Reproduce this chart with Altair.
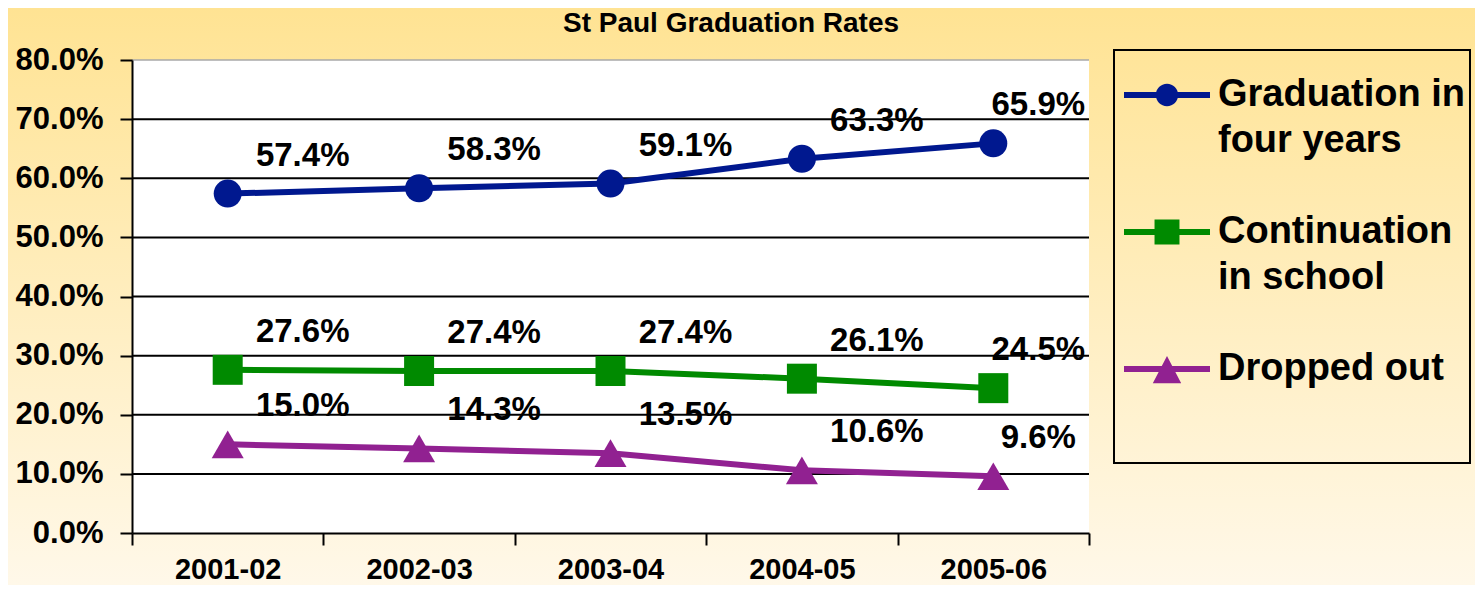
import altair as alt
import pandas as pd

# ---------------- data ----------------
years = ["2001-02", "2002-03", "2003-04", "2004-05", "2005-06"]
series = ["Graduation in\nfour years", "Continuation\nin school", "Dropped out"]
graduation = [57.4, 58.3, 59.1, 63.3, 65.9]
continuation = [27.6, 27.4, 27.4, 26.1, 24.5]
dropped = [15.0, 14.3, 13.5, 10.6, 9.6]
y_ticks = [0, 10, 20, 30, 40, 50, 60, 70, 80]
grid_lines = [10, 20, 30, 40, 50, 60, 70]
title_text = "St Paul Graduation Rates"

colors = ["#00188F", "#008A00", "#912191"]
point_shapes = ["circle", "square", "triangle-up"]
point_sizes = [784, 900, 1024]
# legend symbols: line segment + marker (custom paths in [-1,1] box)
legend_paths = [
    "M-1,-0.07L1,-0.07L1,0.07L-1,0.07Z M-0.26,0A0.26,0.26 0 1,1 0.26,0A0.26,0.26 0 1,1 -0.26,0Z",
    "M-1,-0.07L1,-0.07L1,0.07L-1,0.07Z M-0.29,-0.29L0.29,-0.29L0.29,0.29L-0.29,0.29Z",
    "M-1,-0.07L1,-0.07L1,0.07L-1,0.07Z M0,-0.3L0.33,0.33L-0.33,0.33Z",
]

rows = []
for s, vals in zip(series, [graduation, continuation, dropped]):
    for yr, v in zip(years, vals):
        rows.append({"year": yr, "series": s, "value": v / 100})
df = pd.DataFrame(rows)
grid_df = pd.DataFrame({"value": [g / 100 for g in grid_lines]})

# ---------------- layout ----------------
W, H = 957, 473
PL, PT, PR, PB = 124, 52, 386, 52
FONT = "Liberation Sans"

xscale = alt.Scale(domain=years, paddingInner=0, paddingOuter=0)
yscale = alt.Scale(domain=[0, 0.8], nice=False)
xaxis = alt.Axis(title=None, tickBand="extent", domainColor="black", domainWidth=2,
                 tickColor="black", tickWidth=2, tickSize=12, labelFont=FONT,
                 labelFontSize=29, labelFontWeight="bold", labelColor="black",
                 labelPadding=10, labelAngle=0, grid=False, zindex=1)
yaxis = alt.Axis(title=None, values=[t / 100 for t in y_ticks], format=".1%",
                 domainColor="black", domainWidth=2, tickColor="black", tickWidth=2,
                 tickSize=12, labelFont=FONT, labelFontSize=31, labelFontWeight="bold",
                 labelColor="black", labelPadding=17, grid=False, zindex=1)
X = alt.X("year:N", scale=xscale, axis=xaxis, sort=years)
Y = alt.Y("value:Q", scale=yscale, axis=yaxis)
cscale = alt.Scale(domain=series, range=colors)

one = alt.Data(values=[{}])

bg = alt.Chart(one).mark_rect(
    color=alt.LinearGradient(gradient="linear", x1=0, y1=0, x2=0, y2=1,
                             stops=[alt.GradientStop(color="#FFE393", offset=0),
                                    alt.GradientStop(color="#FFF8E9", offset=1)])
).encode(x=alt.value(-PL), x2=alt.value(W + PR), y=alt.value(-PT), y2=alt.value(H + PB))

plot_bg = alt.Chart(one).mark_rect(color="white").encode(
    x=alt.value(0), x2=alt.value(W), y=alt.value(0), y2=alt.value(H))

top_border = alt.Chart(one).mark_rule(color="#A8A8A8", strokeWidth=1.5).encode(
    x=alt.value(0), x2=alt.value(W), y=alt.value(0))

grid = alt.Chart(grid_df).mark_rule(color="black", strokeWidth=2).encode(
    y=Y, x=alt.value(0), x2=alt.value(W))

legend_box = alt.Chart(one).mark_rect(fill="transparent", stroke="black", strokeWidth=2).encode(
    x=alt.value(982), x2=alt.value(1338), y=alt.value(-10), y2=alt.value(403))

legend = alt.Legend(title=None, orient="none", legendX=982, legendY=-18, padding=10,
                    labelFont=FONT, labelFontSize=38, labelFontWeight="bold",
                    labelColor="black", labelLimit=500, labelOffset=8,
                    labelExpr="split(datum.label, '\\n')",
                    symbolSize=7396, symbolOpacity=1, symbolStrokeWidth=0,
                    rowPadding=29, zindex=1)

dummy = alt.Chart(df).mark_point(filled=True, opacity=0, size=10).encode(
    x=X, y=Y,
    color=alt.Color("series:N", scale=cscale, legend=legend, sort=series),
    shape=alt.Shape("series:N", scale=alt.Scale(domain=series, range=legend_paths),
                    legend=legend, sort=series),
)

lines = alt.Chart(df).mark_line(strokeWidth=6).encode(
    x=X, y=Y, color=alt.Color("series:N", scale=cscale, legend=None),
    detail="series:N")

point_layers = []
for s, shp, sz in zip(series, point_shapes, point_sizes):
    point_layers.append(
        alt.Chart(df).transform_filter(alt.datum.series == s)
        .mark_point(shape=shp, filled=True, size=sz, opacity=1)
        .encode(x=X, y=Y, color=alt.Color("series:N", scale=cscale, legend=None))
    )

label_style = dict(font=FONT, fontSize=33, fontWeight="bold", color="black", dy=-38)
labels = alt.Chart(df).transform_filter(alt.datum.year != years[-1]).mark_text(
    dx=75, **label_style).encode(x=X, y=Y, text=alt.Text("value:Q", format=".1%"))
labels_last = alt.Chart(df).transform_filter(alt.datum.year == years[-1]).mark_text(
    dx=45, **label_style).encode(x=X, y=Y, text=alt.Text("value:Q", format=".1%"))

title = alt.Chart(one).mark_text(text=title_text, font=FONT, fontSize=28,
                                 fontWeight="bold", color="black").encode(
    x=alt.value(599), y=alt.value(-36))

chart = alt.layer(bg, plot_bg, top_border, grid, legend_box, dummy, lines,
                  *point_layers, labels, labels_last, title).properties(
    width=W, height=H,
    autosize=alt.AutoSizeParams(type="none"),
    padding={"left": PL, "top": PT, "right": PR, "bottom": PB},
).configure_view(stroke="transparent").configure(
    style={"guide-label": {"lineHeight": 46}})

chart.save("out.html", embed_options={"renderer": "svg", "actions": False})
